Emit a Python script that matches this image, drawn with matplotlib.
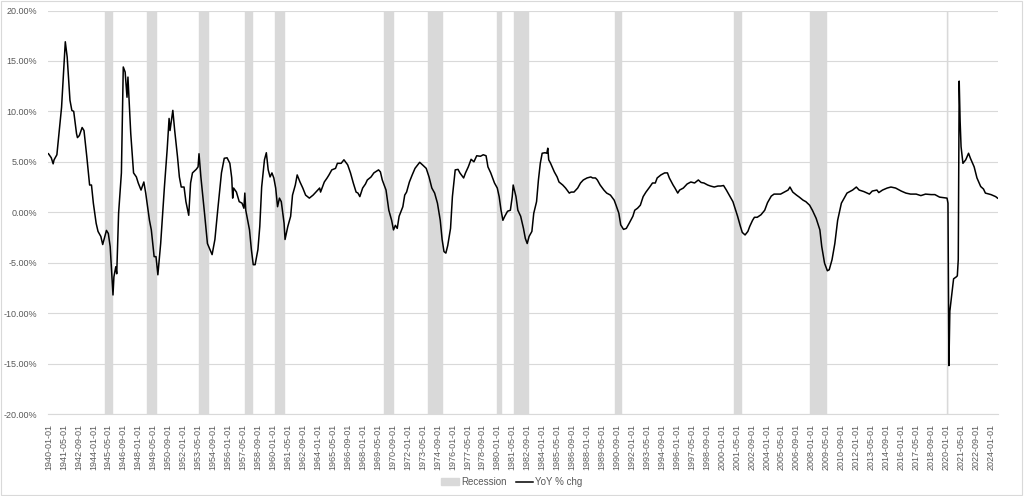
import matplotlib
matplotlib.use("Agg")
import matplotlib.pyplot as plt
from matplotlib.patches import Patch, Rectangle
from matplotlib.lines import Line2D

plt.rcParams['font.family'] = ['Liberation Sans', 'DejaVu Sans']

# monthly axis: 1940-01 .. 2024-08
start_year = 1940
n_months = 1016

# YoY % change at (month index since 1940-01, value)
yoy_month = [
    0, 3, 5, 6, 9, 12, 14, 18, 20, 23, 25, 27, 30, 31, 33, 36, 38, 41, 44, 46,
    48, 51, 53, 56, 58, 62, 64, 66, 69, 70, 72, 73, 75, 78, 80, 82, 84, 85, 86, 88,
    91, 94, 96, 99, 102, 104, 108, 110, 113, 115, 117, 120, 124, 127, 129, 130, 133, 135, 138, 140,
    142, 145, 147, 150, 152, 154, 158, 160, 161, 163, 167, 170, 175, 178, 181, 185, 188, 191, 194, 196,
    197, 198, 201, 204, 207, 209, 210, 211, 215, 217, 219, 221, 224, 226, 228, 231, 233, 235, 237, 239,
    241, 243, 245, 247, 249, 252, 253, 256, 259, 261, 264, 266, 269, 272, 275, 279, 283, 286, 290, 291,
    295, 298, 300, 303, 307, 309, 313, 316, 320, 323, 326, 329, 331, 333, 336, 339, 341, 345, 348, 353,
    355, 357, 361, 364, 367, 369, 371, 373, 375, 379, 381, 383, 386, 389, 392, 395, 397, 400, 404, 407,
    410, 413, 416, 419, 421, 423, 425, 427, 430, 432, 435, 438, 440, 444, 446, 449, 452, 455, 458, 462,
    465, 468, 470, 473, 477, 480, 482, 484, 486, 488, 491, 494, 496, 497, 500, 502, 505, 508, 510, 512,
    514, 517, 519, 522, 524, 526, 528, 531, 533, 534, 535, 537, 541, 544, 546, 550, 553, 557, 559, 562,
    566, 569, 572, 576, 580, 582, 585, 587, 590, 594, 597, 601, 605, 607, 610, 612, 615, 618, 621, 625,
    627, 630, 633, 636, 639, 643, 646, 649, 651, 655, 659, 662, 664, 668, 670, 673, 675, 679, 683, 687,
    691, 695, 698, 701, 705, 708, 712, 716, 719, 722, 725, 728, 732, 735, 737, 740, 742, 745, 748, 750,
    753, 755, 758, 762, 766, 769, 773, 776, 780, 783, 787, 791, 793, 796, 800, 803, 807, 810, 814, 817,
    821, 825, 827, 830, 833, 835, 838, 841, 844, 848, 851, 854, 860, 864, 867, 872, 878, 881, 886, 888,
    892, 897, 901, 906, 912, 917, 922, 928, 933, 938, 944, 948, 953, 957, 961, 962, 963, 964, 966, 968,
    971, 972, 973, 974, 975, 976, 978, 981, 984, 986, 990, 993, 997, 1000, 1002, 1008, 1013, 1015,
]
yoy_value = [
    5.8, 5.4, 4.8, 5.2, 5.7, 8.5, 10.4, 16.9, 15.4, 11.1, 10.1, 10.0, 7.8, 7.4, 7.6, 8.4, 8.1, 5.5, 2.7, 2.7,
    0.9, -1.1, -1.9, -2.4, -3.2, -1.8, -2.1, -3.4, -8.2, -6.4, -5.4, -6.1, -0.1, 3.9, 14.4, 13.9, 11.4, 13.4, 11.5, 7.8,
    3.9, 3.5, 2.9, 2.2, 3.0, 1.9, -0.8, -1.75, -4.4, -4.4, -6.2, -3.1, 2.5, 6.3, 9.3, 8.1, 10.1, 8.1, 5.5, 3.5,
    2.5, 2.5, 1.05, -0.3, 2.9, 3.9, 4.25, 4.5, 5.8, 3.5, -0.2, -3.1, -4.2, -2.7, 0.2, 3.9, 5.35, 5.4, 4.85, 3.4,
    1.4, 2.4, 2.0, 1.05, 0.9, 0.4, 1.9, 0.2, -1.75, -3.7, -5.2, -5.2, -3.7, -1.4, 2.5, 5.2, 5.9, 4.2, 3.5, 3.9,
    3.4, 2.4, 0.55, 1.4, 1.05, -1.1, -2.7, -1.4, -0.4, 1.7, 2.7, 3.7, 3.0, 2.4, 1.7, 1.4, 1.7, 2.0, 2.4, 2.0,
    3.0, 3.4, 3.7, 4.2, 4.35, 4.85, 4.85, 5.2, 4.7, 3.9, 2.9, 2.0, 1.9, 1.55, 2.4, 2.8, 3.2, 3.5, 3.9, 4.2,
    4.0, 3.2, 2.2, 0.2, -0.8, -1.75, -1.3, -1.6, -0.4, 0.55, 1.7, 2.0, 3.0, 3.7, 4.35, 4.7, 4.95, 4.7, 4.35, 3.5,
    2.4, 1.9, 0.9, -0.8, -2.7, -3.9, -4.05, -3.3, -1.6, 1.55, 4.2, 4.25, 3.9, 3.4, 3.9, 4.5, 5.25, 5.0, 5.6, 5.55,
    5.7, 5.6, 4.5, 3.9, 2.9, 2.4, 1.55, 0.2, -0.8, -0.4, 0.1, 0.2, 1.55, 2.7, 1.55, 0.2, -0.4, -1.6, -2.6, -3.1,
    -2.4, -1.9, -0.1, 1.05, 3.2, 4.85, 5.85, 5.9, 5.85, 6.35, 5.2, 4.85, 4.0, 3.5, 3.0, 2.7, 2.4, 1.9, 2.0, 2.0,
    2.4, 2.9, 3.2, 3.4, 3.5, 3.4, 3.4, 3.2, 2.7, 2.2, 1.9, 1.7, 1.2, 0.7, -0.1, -1.25, -1.7, -1.6, -1.1, -0.4,
    0.2, 0.4, 0.7, 1.55, 2.0, 2.5, 2.9, 2.9, 3.4, 3.7, 3.9, 3.9, 3.4, 2.7, 2.4, 1.9, 2.2, 2.4, 2.8, 3.0,
    2.9, 3.2, 2.95, 2.9, 2.7, 2.6, 2.5, 2.6, 2.6, 2.65, 2.2, 1.7, 1.05, 0.2, -0.4, -1.4, -2.0, -2.25, -1.9, -1.4,
    -0.8, -0.5, -0.5, -0.25, 0.2, 0.95, 1.6, 1.8, 1.8, 1.8, 2.0, 2.2, 2.5, 2.0, 1.7, 1.5, 1.2, 1.05, 0.7, 0.2,
    -0.6, -1.75, -3.4, -5.05, -5.8, -5.7, -4.7, -3.1, -0.8, 0.9, 1.4, 1.9, 2.2, 2.5, 2.2, 2.05, 1.8, 2.1, 2.2, 1.95,
    2.2, 2.4, 2.5, 2.4, 2.1, 1.9, 1.8, 1.8, 1.65, 1.8, 1.75, 1.75, 1.5, 1.45, 1.4, 0.9, -15.2, -9.8, -8.2, -6.6,
    -6.4, -6.3, -4.7, 13.0, 9.0, 6.5, 4.85, 5.2, 5.85, 5.35, 4.5, 3.4, 2.55, 2.3, 1.9, 1.75, 1.55, 1.4,
]

# recessions, peak month through month before trough (start, end inclusive)
recessions = [
    ("1945-02", "1945-09"), ("1948-11", "1949-09"), ("1953-07", "1954-04"),
    ("1957-08", "1958-03"), ("1960-04", "1961-01"), ("1969-12", "1970-10"),
    ("1973-11", "1975-02"), ("1980-01", "1980-06"), ("1981-07", "1982-10"),
    ("1990-07", "1991-02"), ("2001-03", "2001-10"), ("2007-12", "2009-05"),
    ("2020-02", "2020-03"),
]


def month_index(s):
    y, m = s.split("-")
    return (int(y) - start_year) * 12 + int(m) - 1


rec_flag = [0] * n_months
for a, b in recessions:
    for i in range(month_index(a), month_index(b) + 1):
        rec_flag[i] = 1
rec_months = [i for i in range(n_months) if rec_flag[i]]

tick_pos = list(range(0, n_months, 16))
tick_labels = [f"{start_year + p // 12}-{p % 12 + 1:02d}-01" for p in tick_pos]

grey = "#D9D9D9"
txt = "#595959"

fig = plt.figure(figsize=(10.24, 4.96), dpi=100)
ax = fig.add_axes([48 / 1024, 1 - 414 / 496, 950 / 1024, (414 - 10.5) / 496])

ax.bar(rec_months, [40] * len(rec_months), bottom=-20, width=1.0,
       color=grey, edgecolor=grey, linewidth=0.3, zorder=2)
ax.plot(yoy_month, yoy_value, color="black", linewidth=1.1, zorder=3)

ax.set_xlim(-0.5, n_months - 0.5)
ax.set_ylim(-20, 20)
ax.set_yticks(range(-20, 21, 5))
ax.set_yticklabels([f"{v:.2f}%" for v in range(-20, 21, 5)])
ax.set_xticks(tick_pos)
ax.set_xticklabels(tick_labels, rotation=90)
ax.tick_params(axis="both", length=0, labelsize=6.5, colors=txt)
ax.tick_params(axis="y", pad=8)
ax.tick_params(axis="x", pad=7)
ax.grid(axis="y", color=grey, linewidth=0.8, zorder=1)
ax.set_axisbelow(True)
for s in ["top", "right", "left"]:
    ax.spines[s].set_visible(False)
ax.spines["bottom"].set_color(grey)
ax.spines["bottom"].set_linewidth(0.8)

handles = [Patch(facecolor=grey, edgecolor=grey),
           Line2D([0], [0], color="black", linewidth=1.1)]
fig.legend(handles, ["Recession", "YoY % chg"], loc="center",
           bbox_to_anchor=(0.5, 1 - 482 / 496), ncol=2, frameon=False,
           fontsize=7, labelcolor=txt, handlelength=1.8, handleheight=0.6,
           handletextpad=0.2, columnspacing=1.0)

fig.add_artist(Rectangle((0.001, 0.002), 0.997, 0.996, transform=fig.transFigure,
                         fill=False, edgecolor=grey, linewidth=0.8))

fig.savefig("out.png", dpi=100)
